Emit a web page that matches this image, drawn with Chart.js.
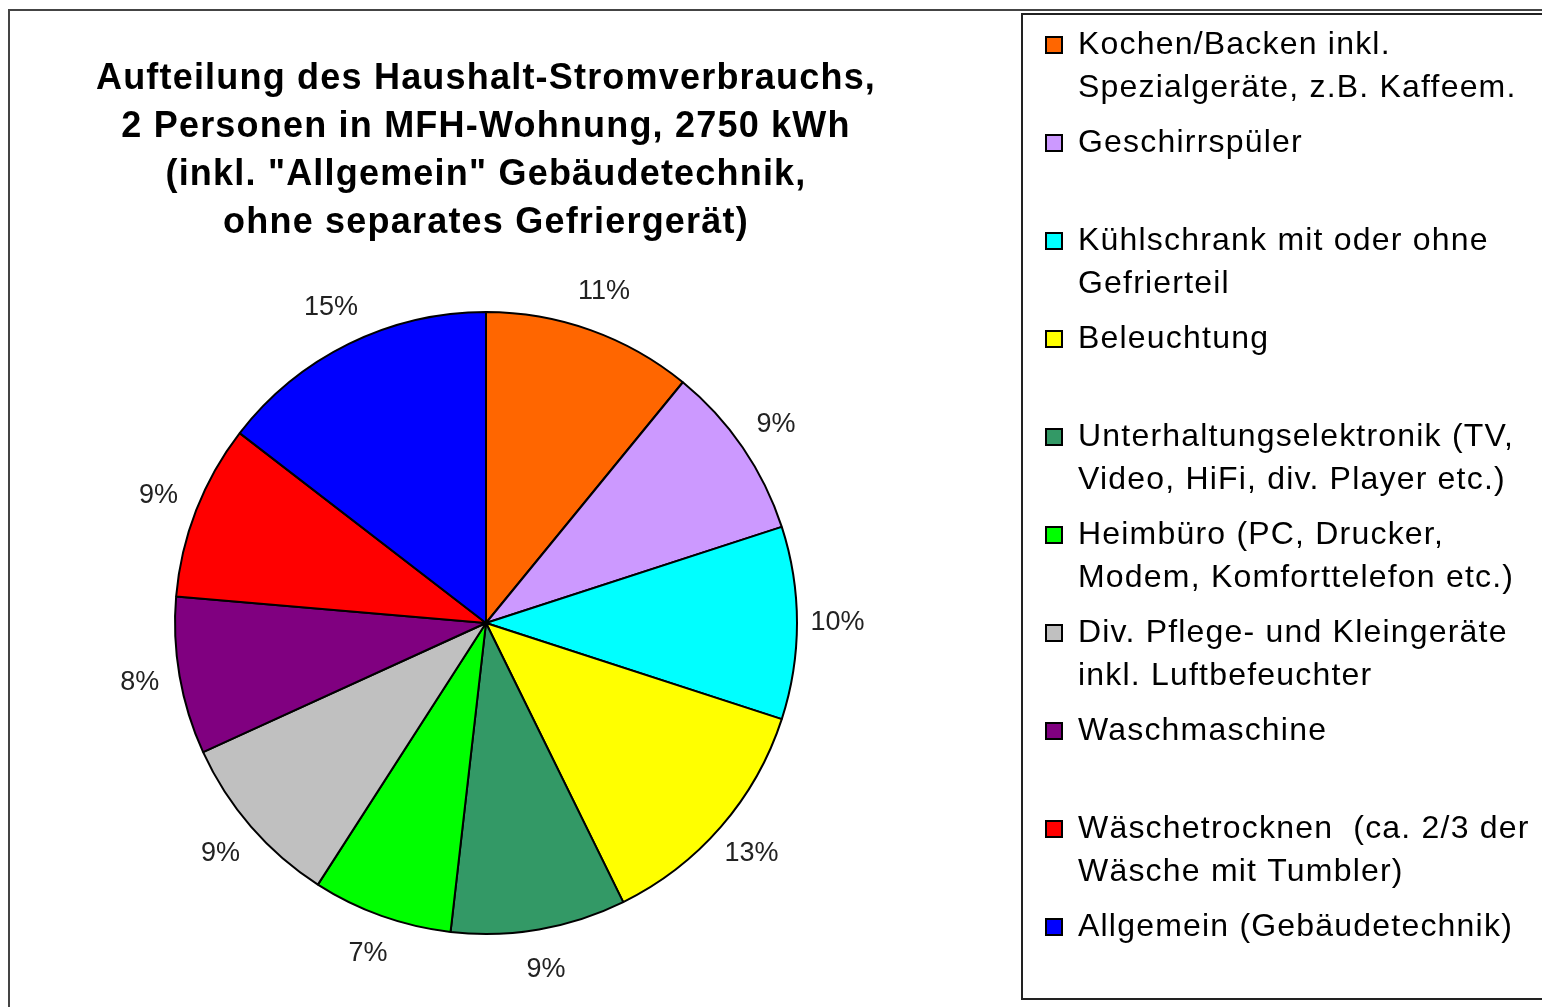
<!DOCTYPE html>
<html>
<head>
<meta charset="utf-8">
<title>Aufteilung des Haushalt-Stromverbrauchs</title>
<script src="https://cdn.jsdelivr.net/npm/chart.js@4/dist/chart.umd.min.js"></script>
<style>
  html, body { margin: 0; padding: 0; background: #fff; overflow: hidden; }
  #page { position: relative; width: 1542px; height: 1007px; overflow: hidden; }
  /* the chart is shifted left so that the pie sits where it does in the original */
  #stromChart { position: absolute; left: -62px; top: 0; display: block; }
  /* outer border of the picture, right and bottom edges outside the view */
  #frame { position: absolute; left: 8px; top: 9px; width: 1600px; height: 1100px;
           border: 2.5px solid #444; pointer-events: none; }
</style>
</head>
<body>
<div id="page">
  <canvas id="stromChart" width="1604" height="1007"></canvas>
  <div id="frame"></div>
</div>
<script>
// Legend labels (one array entry per line), in the order of the slices
var categories = [
    ['Kochen/Backen inkl.', 'Spezialgeräte, z.B. Kaffeem.'],
    ['Geschirrspüler', ''],
    ['Kühlschrank mit oder ohne', 'Gefrierteil'],
    ['Beleuchtung', ''],
    ['Unterhaltungselektronik (TV,', 'Video, HiFi, div. Player etc.)'],
    ['Heimbüro (PC, Drucker,', 'Modem, Komforttelefon etc.)'],
    ['Div. Pflege- und Kleingeräte', 'inkl. Luftbefeuchter'],
    ['Waschmaschine', ''],
    ['Wäschetrocknen  (ca. 2/3 der', 'Wäsche mit Tumbler)'],
    ['Allgemein (Gebäudetechnik)']
];

// Consumption per category in kWh (total 2750 kWh)
var consumptionKwh = [300, 250, 275, 350, 250, 200, 250, 225, 250, 400];

var sliceColors = ['#FF6600', '#CC99FF', '#00FFFF', '#FFFF00', '#339966',
                   '#00FF00', '#C0C0C0', '#800080', '#FF0000', '#0000FF'];

var titleLines = [
    'Aufteilung des Haushalt-Stromverbrauchs,',
    '2 Personen in MFH-Wohnung, 2750 kWh',
    '(inkl. "Allgemein" Gebäudetechnik,',
    'ohne separates Gefriergerät)'
];

var fontFamily = '"Liberation Sans", Arial, sans-serif';

// Percent labels outside the slices + legend box frame
var piePlugin = {
    id: 'piePlugin',
    afterLayout: function(chart) {
        // let the legend text run to the right edge instead of being clipped
        chart.legend.right = chart.width;
    },
    beforeDraw: function(chart) {
        chart.ctx.letterSpacing = '1.2px';  // Excel-like wide text for legend and title
    },
    afterDatasetsDraw: function(chart) {
        var ctx = chart.ctx;
        var values = chart.data.datasets[0].data;
        var total = values.reduce(function(a, b) { return a + b; }, 0);
        ctx.save();
        ctx.letterSpacing = '0px';
        ctx.font = '27px ' + fontFamily;
        ctx.fillStyle = '#222';
        ctx.textAlign = 'center';
        ctx.textBaseline = 'middle';
        chart.getDatasetMeta(0).data.forEach(function(arc, i) {
            var mid = (arc.startAngle + arc.endAngle) / 2;
            var r = arc.outerRadius * 1.13;
            var pct = Math.round(values[i] / total * 100) + '%';
            ctx.fillText(pct, arc.x + Math.cos(mid) * r, arc.y + Math.sin(mid) * r);
        });
        ctx.restore();
    },
    afterDraw: function(chart) {
        var ctx = chart.ctx;
        var legend = chart.legend;
        ctx.save();
        ctx.strokeStyle = '#222';
        ctx.lineWidth = 2;
        ctx.strokeRect(legend.left - 12, legend.top - 3, chart.width, legend.bottom - legend.top + 3);
        ctx.restore();
        ctx.letterSpacing = '0px';
    }
};

var ctx = document.getElementById('stromChart').getContext('2d');

var stromChart = new Chart(ctx, {
    type: 'pie',
    data: {
        labels: categories,
        datasets: [{
            data: consumptionKwh,
            backgroundColor: sliceColors,
            borderColor: '#000',
            borderWidth: 2,
            radius: 311
        }]
    },
    options: {
        responsive: false,
        animation: false,
        layout: {
            padding: { top: 17, left: 0, right: 68, bottom: 8 }
        },
        plugins: {
            title: {
                display: true,
                text: titleLines,
                fullSize: false,
                color: '#000',
                font: { family: fontFamily, size: 36, weight: 'bold', lineHeight: 48 / 36 },
                padding: { top: 38, bottom: 0 }
            },
            legend: {
                position: 'right',
                align: 'start',
                fullSize: true,
                maxWidth: 440,
                labels: {
                    color: '#000',
                    boxWidth: 16,
                    boxHeight: 16,
                    padding: 12,
                    font: { family: fontFamily, size: 32, lineHeight: 43 / 32 }
                }
            },
            tooltip: { enabled: false }
        }
    },
    plugins: [piePlugin]
});
</script>
</body>
</html>
